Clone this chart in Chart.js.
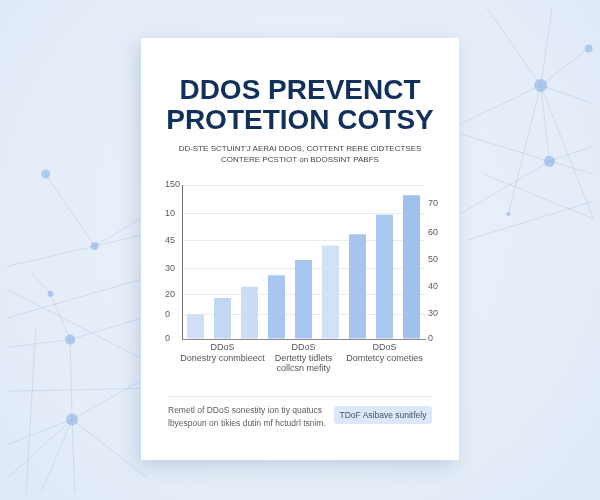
<!DOCTYPE html>
<html>
<head>
<meta charset="utf-8">
<script src="https://cdn.jsdelivr.net/npm/chart.js@4"></script>
<style>
  html, body { margin: 0; padding: 0; }
  body { width: 600px; height: 500px; position: relative; overflow: hidden; background: radial-gradient(circle at 50% 45%, #edf3fb 0%, #e4edf8 70%, #dfe9f7 100%); font-family: "Liberation Sans", Arial, sans-serif; }
  #bg { position: absolute; left: 0; top: 0; z-index: 0; }
  .card { position: absolute; left: 141px; top: 38px; width: 318px; height: 422px; background: #fff; z-index: 1;
    box-shadow: -4px 6px 18px rgba(70, 100, 150, 0.22); }
  .title { position: absolute; left: 0; top: 37px; width: 100%; text-align: center; font-weight: bold; font-size: 28px; line-height: 30px; color: #12305c; }
  .sub { position: absolute; left: 0; top: 106px; width: 100%; text-align: center; font-size: 8px; line-height: 10.5px; color: #444; }
  #chart { position: absolute; left: 14px; top: 137px; }
  .sep { position: absolute; left: 27px; top: 358px; width: 265px; height: 1px; background: #e3e6ea; }
  .foot { position: absolute; left: 27px; top: 366px; font-size: 8.5px; line-height: 12.5px; color: #5c5c5c; }
  .btn { position: absolute; left: 193px; top: 368px; width: 98px; height: 18px; line-height: 18px; border-radius: 3px; background: #dce8f8; color: #44536b; font-size: 8.5px; text-align: center; }
</style>
</head>
<body>
<canvas id="bg" width="600" height="500"></canvas>
<div class="card">
  <div class="title">DDOS PREVENCT<br>PROTETION COTSY</div>
  <div class="sub">DD-STE SCTUINT'J AERAI DDOS, COTTENT RERE CIDTECTSES<br>CONTERE PCSTIOT on BDOSSINT PABFS</div>
  <canvas id="chart" width="290" height="215"></canvas>
  <div class="sep"></div>
  <div class="foot">Remetl of DDoS sonestity ion tiy quatucs<br>lbyespoun on tikies dutin mf hctudrl tsnim.</div>
  <div class="btn">TDoF Asibave sunitfely</div>
</div>
<script>
// bar chart data
const barLabels = ['', ['DDoS', 'Donestry conmbieect'], '', '', ['DDoS', 'Dertetty tidlets', 'collcsn mefity'], '', '', ['DDoS', 'Domtetcy cometies'], ''];
const barValues = [24, 40, 51, 62, 77, 91, 102, 121, 140];
const barColors = ['#cfe0f7', '#c2d7f4', '#cbddf6', '#a8c7ef', '#a7c6ef', '#d0e1f8', '#a5c4ee', '#a9c8f0', '#a0c1ed'];

// left axis: tick positions and their printed labels
const leftTickValues = [0, 23.4, 42.9, 68.2, 95.5, 122.7, 150];
const leftTickLabels = ['0', '0', '20', '30', '45', '10', '150'];
// right axis
const rightTickValues = [0, 25.3, 51.6, 77.9, 104.2, 131.5];
const rightTickLabels = ['0', '30', '40', '50', '60', '70'];

// background network
const bgNodes = [
  { x: 546, y: 81, r: 6.5 }, { x: 595, y: 43, r: 4 }, { x: 555, y: 159, r: 5.5 }, { x: 513, y: 213, r: 2 },
  { x: 40, y: 172, r: 4.5 }, { x: 90, y: 246, r: 4 }, { x: 45, y: 295, r: 3 }, { x: 65, y: 342, r: 5 }, { x: 67, y: 424, r: 6 },
];
const bgEdges = [
  [490, 0, 546, 81], [558, 0, 546, 81], [546, 81, 595, 43], [546, 81, 600, 100], [546, 81, 455, 125],
  [546, 81, 555, 159], [546, 81, 513, 213], [546, 81, 600, 218], [555, 159, 600, 143], [555, 159, 600, 172],
  [555, 159, 455, 218], [455, 128, 555, 159], [490, 173, 600, 218], [470, 240, 600, 200],
  [0, 267, 90, 246], [90, 246, 145, 233], [40, 172, 90, 246], [90, 246, 145, 213], [25, 273, 45, 295],
  [45, 295, 65, 342], [0, 290, 145, 365], [0, 320, 145, 278], [0, 350, 65, 342], [65, 342, 145, 318],
  [65, 342, 67, 424], [67, 424, 0, 450], [67, 424, 0, 485], [67, 424, 35, 500], [67, 424, 70, 500],
  [67, 424, 145, 485], [67, 424, 145, 380], [0, 395, 145, 392], [30, 330, 20, 500],
];

function drawBackground() {
  const datasets = bgEdges.map(e => ({
    data: [{ x: e[0], y: e[1] }, { x: e[2], y: e[3] }],
    showLine: true,
    borderColor: 'rgba(140, 165, 205, 0.3)',
    borderWidth: 0.8,
    pointRadius: 0,
  }));
  datasets.push({
    data: bgNodes.map(n => ({ x: n.x, y: n.y })),
    pointRadius: bgNodes.map(n => n.r),
    pointBackgroundColor: 'rgba(165, 195, 238, 0.85)',
    pointBorderWidth: 0,
    showLine: false,
  });
  new Chart(document.getElementById('bg'), {
    type: 'scatter',
    data: { datasets },
    options: {
      responsive: false,
      animation: false,
      layout: { padding: 0 },
      plugins: { legend: { display: false }, tooltip: { enabled: false } },
      scales: {
        x: { display: false, min: 0, max: 600 },
        y: { display: false, min: 0, max: 500, reverse: true },
      },
    },
  });
}

function drawBars() {
  const tickFont = { family: '"Liberation Sans", Arial, sans-serif', size: 9 };
  new Chart(document.getElementById('chart'), {
    type: 'bar',
    data: {
      labels: barLabels,
      datasets: [{
        data: barValues,
        backgroundColor: barColors,
        borderWidth: 0,
        barPercentage: 0.63,
        categoryPercentage: 1,
      }],
    },
    options: {
      responsive: false,
      animation: false,
      layout: { padding: { top: 10, left: 10, right: 0, bottom: 0 } },
      plugins: { legend: { display: false }, tooltip: { enabled: false } },
      scales: {
        x: {
          grid: { display: false, drawTicks: false },
          border: { display: true, color: '#8a8a8a', width: 1 },
          ticks: { autoSkip: false, maxRotation: 0, padding: 3, color: '#555', font: tickFont },
          afterFit: (s) => { s.height = 51; },
        },
        y: {
          position: 'left',
          min: 0, max: 150,
          afterBuildTicks: (s) => { s.ticks = leftTickValues.map(v => ({ value: v })); },
          grid: { color: '#e8ebf0', drawTicks: false },
          border: { display: true, color: '#6f6f6f', width: 1 },
          ticks: { crossAlign: 'far', padding: 0, color: '#5a5a5a', font: tickFont,
            callback: (v, i) => leftTickLabels[i] },
          afterFit: (s) => { s.width = 17; },
        },
        y1: {
          position: 'right',
          min: 0, max: 150,
          afterBuildTicks: (s) => { s.ticks = rightTickValues.map(v => ({ value: v })); },
          grid: { drawOnChartArea: false, drawTicks: false },
          border: { display: false },
          ticks: { padding: 3, color: '#5a5a5a', font: tickFont,
            callback: (v, i) => rightTickLabels[i] },
          afterFit: (s) => { s.width = 20; },
        },
      },
    },
  });
}

drawBackground();
drawBars();
</script>
</body>
</html>
